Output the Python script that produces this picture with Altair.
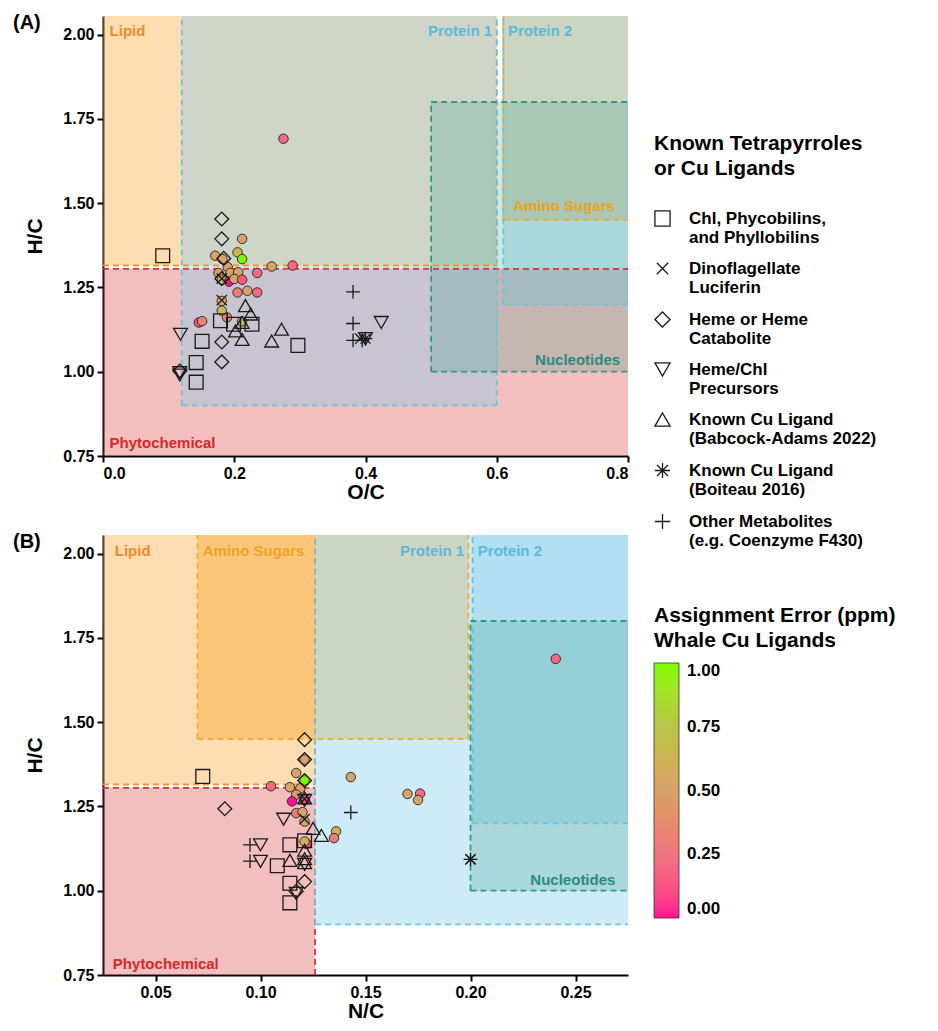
import altair as alt
import pandas as pd

FONT = "Liberation Sans"

# ---------------- categories / legend ----------------
CATS = [
    "Chl, Phycobilins,|and Phyllobilins",
    "Dinoflagellate|Luciferin",
    "Heme or Heme|Catabolite",
    "Heme/Chl|Precursors",
    "Known Cu Ligand|(Babcock-Adams 2022)",
    "Known Cu Ligand|(Boiteau 2016)",
    "Other Metabolites|(e.g. Coenzyme F430)",
]
SHAPES = [
    "square",
    "M-0.75,-0.75L0.75,0.75M-0.75,0.75L0.75,-0.75",
    "diamond",
    "triangle-down",
    "triangle-up",
    "M-1,0L1,0M0,-1L0,1M-0.72,-0.72L0.72,0.72M-0.72,0.72L0.72,-0.72",
    "M-1,0L1,0M0,-1L0,1",
]
SQ, XL, DI, TD, TU, AS, PL = CATS

ERR_STOPS = [0, 0.25, 0.5, 0.75, 1.0]
ERR_COLORS = ["#ff1493", "#ef7580", "#d8a268", "#b5c648", "#7cfc00"]

# ---------------- Panel A (O/C vs H/C) ----------------
A_circ_oc = [0.275, 0.212, 0.205, 0.212, 0.171, 0.182, 0.190, 0.257, 0.289, 0.235,
             0.176, 0.194, 0.206, 0.181, 0.192, 0.200, 0.212, 0.205, 0.220, 0.235,
             0.181, 0.181, 0.189, 0.146, 0.151, 0.212]
A_circ_hc = [1.691, 1.394, 1.354, 1.334, 1.344, 1.334, 1.310, 1.312, 1.315, 1.293,
             1.293, 1.293, 1.295, 1.273, 1.267, 1.275, 1.273, 1.235, 1.240, 1.235,
             1.210, 1.181, 1.161, 1.146, 1.150, 1.149]
A_circ_err = [0.20, 0.50, 0.65, 1.00, 0.50, 0.50, 0.50, 0.50, 0.20, 0.20,
              0.45, 0.50, 0.50, 0.65, 0.00, 0.50, 0.15, 0.30, 0.50, 0.20,
              0.50, 0.65, 0.30, 0.10, 0.35, 0.65]

A_shape_cat = [SQ, SQ, SQ, SQ, SQ, SQ, SQ, SQ,
               XL, XL, XL,
               DI, DI, DI, DI, DI, DI, DI,
               TD, TD, TD, TD, TD,
               TU, TU, TU, TU, TU, TU, TU,
               AS,
               PL, PL, PL, PL]
A_shape_oc = [0.091, 0.179, 0.199, 0.227, 0.297, 0.151, 0.142, 0.142,
              0.181, 0.181, 0.392,
              0.181, 0.181, 0.184, 0.181, 0.181, 0.181, 0.117,
              0.118, 0.117, 0.117, 0.424, 0.400,
              0.217, 0.225, 0.212, 0.202, 0.212, 0.272, 0.257,
              0.400,
              0.381, 0.381, 0.381, 0.395]
A_shape_hc = [1.344, 1.151, 1.141, 1.141, 1.078, 1.090, 1.027, 0.969,
              1.212, 1.276, 1.098,
              1.453, 1.394, 1.336, 1.276, 1.088, 1.029, 1.002,
              1.111, 0.997, 0.990, 1.146, 1.098,
              1.196, 1.171, 1.146, 1.121, 1.096, 1.126, 1.091,
              1.098,
              1.237, 1.143, 1.093, 1.093]

# ---------------- Panel B (N/C vs H/C) ----------------
B_circ_nc = [0.121, 0.117, 0.121, 0.105, 0.114, 0.119, 0.117, 0.115, 0.121, 0.117,
             0.120, 0.121, 0.143, 0.136, 0.135, 0.122, 0.121, 0.170, 0.176, 0.175,
             0.2406]
B_circ_hc = [1.389, 1.349, 1.327, 1.310, 1.307, 1.304, 1.285, 1.265, 1.268, 1.230,
             1.233, 1.205, 1.337, 1.176, 1.156, 1.139, 1.146, 1.287, 1.288, 1.269,
             1.6875]
B_circ_err = [0.50, 0.50, 1.00, 0.20, 0.50, 0.50, 0.50, 0.00, 0.10, 0.30,
              0.50, 0.50, 0.50, 0.62, 0.30, 0.10, 0.62, 0.50, 0.20, 0.50,
              0.20]

B_shape_cat = [SQ, SQ, SQ, SQ, SQ, SQ,
               XL, XL, XL,
               DI, DI, DI, DI, DI, DI,
               TD, TD, TD, TD, TD, TD,
               TU, TU, TU, TU, TU, TU, TU,
               AS,
               PL, PL, PL]
B_shape_nc = [0.0725, 0.114, 0.108, 0.114, 0.114, 0.121,
              0.121, 0.121, 0.200,
              0.121, 0.121, 0.121, 0.083, 0.121, 0.117,
              0.111, 0.100, 0.100, 0.117, 0.121, 0.121,
              0.125, 0.129, 0.114, 0.121, 0.121, 0.121, 0.121,
              0.200,
              0.143, 0.095, 0.095]
B_shape_hc = [1.339, 1.136, 1.074, 1.022, 0.964, 1.148,
              1.212, 1.272, 1.093,
              1.448, 1.389, 1.327, 1.243, 1.027, 0.998,
              1.212, 1.136, 1.087, 0.992, 1.268, 1.078,
              1.185, 1.164, 1.090, 1.120, 1.095, 1.275, 1.083,
              1.093,
              1.232, 1.136, 1.088]

# ---------------- compound-class regions (None = open side) ----------------
REG_NAMES = ["Lipid", "Phytochemical", "Amino Sugars", "Protein 1", "Protein 2", "Nucleotides"]
REG_FILL = ["#ffa940", "#d62728", "#f5a623", "#87ceeb", "#87ceeb", "#3a9e8a"]
REG_ALPHA = [0.40, 0.30, 0.40, 0.40, 0.40, 0.25]
REG_STROKE = ["#f39a2e", "#e0303a", "#f0b030", "#6bc3e0", "#6bc3e0", "#2e9c80"]

A_reg_x1 = [None, None, 0.61, 0.12, 0.61, 0.50]
A_reg_x2 = [0.60, None, None, 0.60, None, None]
A_reg_y1 = [1.315, None, 1.45, 0.90, 1.20, 1.00]
A_reg_y2 = [None, 1.305, None, None, None, 1.80]

B_reg_x1 = [None, None, 0.07, 0.126, 0.201, 0.200]
B_reg_x2 = [0.126, 0.126, 0.199, None, None, None]
B_reg_y1 = [1.315, None, 1.45, 0.90, 1.20, 1.00]
B_reg_y2 = [None, 1.305, None, None, None, 1.80]

LBL_COLOR = {"Lipid": "#f5891f", "Phytochemical": "#d42a2a", "Amino Sugars": "#eea51e",
             "Protein 1": "#5bb9da", "Protein 2": "#5bb9da", "Nucleotides": "#2a8c78"}
A_lbl_text = ["Lipid", "Protein 1", "Protein 2", "Amino Sugars", "Nucleotides", "Phytochemical"]
A_lbl_x = [0.010, 0.593, 0.617, 0.625, 0.788, 0.010]
A_lbl_y = [2.010, 2.010, 2.010, 1.490, 1.036, 0.790]
A_lbl_align = ["left", "right", "left", "left", "right", "left"]

B_lbl_text = ["Lipid", "Amino Sugars", "Protein 1", "Protein 2", "Nucleotides", "Phytochemical"]
B_lbl_x = [0.0306, 0.0725, 0.197, 0.2035, 0.269, 0.0297]
B_lbl_y = [2.008, 2.008, 2.008, 2.008, 1.033, 0.783]
B_lbl_align = ["left", "left", "right", "left", "right", "left"]

Y_DOMAIN = [0.75, 2.055]
Y_TICKS = [0.75, 1.0, 1.25, 1.5, 1.75, 2.0]

W, H = 525, 440


def panel(xtitle, xdomain, xticks, xfmt, reg, circ, shp, lbl, tag):
    xs = alt.Scale(domain=xdomain, nice=False, zero=False)
    ys = alt.Scale(domain=Y_DOMAIN, nice=False, zero=False)
    xax = alt.Axis(values=xticks, format=xfmt, title=xtitle)
    yax = alt.Axis(values=Y_TICKS, format=".2f", title="H/C")

    def X(f):
        return alt.X(f, scale=xs, axis=xax, title=xtitle)

    def Y(f):
        return alt.Y(f, scale=ys, axis=yax, title="H/C")

    x1s, x2s, y1s, y2s = reg
    layers = []
    # fills (open sides run to the plot edge)
    for i, nm in enumerate(REG_NAMES):
        a = xdomain[0] if x1s[i] is None else x1s[i]
        b = xdomain[1] if x2s[i] is None else x2s[i]
        c = Y_DOMAIN[0] if y1s[i] is None else y1s[i]
        e = Y_DOMAIN[1] if y2s[i] is None else y2s[i]
        d = pd.DataFrame({"x1": [a], "x2": [b], "y1": [c], "y2": [e]})
        layers.append(
            alt.Chart(d).mark_rect(fill=REG_FILL[i], fillOpacity=REG_ALPHA[i],
                                   strokeWidth=0).encode(
                x=X("x1:Q"), x2="x2:Q", y=Y("y1:Q"), y2="y2:Q"))
    # dashed outlines on the closed sides only
    for i, nm in enumerate(REG_NAMES):
        a = xdomain[0] if x1s[i] is None else x1s[i]
        b = xdomain[1] if x2s[i] is None else x2s[i]
        c = Y_DOMAIN[0] if y1s[i] is None else y1s[i]
        e = Y_DOMAIN[1] if y2s[i] is None else y2s[i]
        segs = []
        if y1s[i] is not None:
            segs.append((a, b, c, c))
        if y2s[i] is not None:
            segs.append((a, b, e, e))
        if x1s[i] is not None:
            segs.append((a, a, c, e))
        if x2s[i] is not None:
            segs.append((b, b, c, e))
        d = pd.DataFrame(segs, columns=["x1", "x2", "y1", "y2"])
        layers.append(
            alt.Chart(d).mark_rule(stroke=REG_STROKE[i], strokeWidth=1.8,
                                   strokeDash=[6, 4]).encode(
                x=X("x1:Q"), x2="x2:Q", y=Y("y1:Q"), y2="y2:Q"))
    # region labels
    lt, lx, ly, la = lbl
    for i in range(len(lt)):
        d = pd.DataFrame({"t": [lt[i]], "x1": [lx[i]], "y1": [ly[i]]})
        layers.append(
            alt.Chart(d).mark_text(align=la[i], baseline="middle", font=FONT,
                                   fontSize=15, fontWeight="bold",
                                   color=LBL_COLOR[lt[i]]).encode(
                x=X("x1:Q"), y=Y("y1:Q"), text="t:N"))
    # circles (whale Cu ligands)
    cx, cy, ce = circ
    dc = pd.DataFrame({"x1": cx, "y1": cy, "err": ce})
    layers.append(
        alt.Chart(dc).mark_circle(size=90, opacity=1, stroke="#222", strokeWidth=0.9).encode(
            x=X("x1:Q"), y=Y("y1:Q"),
            color=alt.Color("err:Q",
                            scale=alt.Scale(domain=ERR_STOPS, range=ERR_COLORS),
                            legend=alt.Legend(
                                title=["Assignment Error (ppm)", "Whale Cu Ligands"],
                                orient="none", legendX=551, legendY=589,
                                gradientLength=255, gradientThickness=25,
                                values=[0, 0.25, 0.5, 0.75, 1.0], format=".2f",
                                gradientStrokeColor="#333", gradientStrokeWidth=0.8,
                                labelOffset=8, titlePadding=12)),
        )
    )
    # known compound symbols
    sx, sy, sc = shp
    ds = pd.DataFrame({"x1": sx, "y1": sy, "cat": sc})
    layers.append(
        alt.Chart(ds).mark_point(size=190, filled=False, stroke="#1a1a1a", strokeWidth=1.3,
                                 opacity=1).encode(
            x=X("x1:Q"), y=Y("y1:Q"),
            shape=alt.Shape("cat:N", scale=alt.Scale(domain=CATS, range=SHAPES),
                            legend=alt.Legend(
                                title=["Known Tetrapyrroles", "or Cu Ligands"],
                                orient="none", legendX=551, legendY=117,
                                labelExpr="split(datum.label, '|')",
                                symbolSize=230, symbolStrokeWidth=1.3,
                                symbolStrokeColor="#1a1a1a",
                                rowPadding=13, labelOffset=18, titlePadding=31,
                                labelLimit=400)),
        )
    )
    # panel tag
    dt = pd.DataFrame({"t": [tag]})
    layers.append(
        alt.Chart(dt).mark_text(align="left", baseline="middle", font=FONT, fontSize=20,
                                fontWeight="bold", color="black").encode(
            x=alt.value(-90), y=alt.value(7), text="t:N")
    )
    return alt.layer(*layers).properties(width=W, height=H)


pA = panel("O/C", [0.0, 0.8], [0.0, 0.2, 0.4, 0.6, 0.8], ".1f",
           (A_reg_x1, A_reg_x2, A_reg_y1, A_reg_y2),
           (A_circ_oc, A_circ_hc, A_circ_err),
           (A_shape_oc, A_shape_hc, A_shape_cat),
           (A_lbl_text, A_lbl_x, A_lbl_y, A_lbl_align), "(A)")
pB = panel("N/C", [0.025, 0.275], [0.05, 0.10, 0.15, 0.20, 0.25], ".2f",
           (B_reg_x1, B_reg_x2, B_reg_y1, B_reg_y2),
           (B_circ_nc, B_circ_hc, B_circ_err),
           (B_shape_nc, B_shape_hc, B_shape_cat),
           (B_lbl_text, B_lbl_x, B_lbl_y, B_lbl_align), "(B)")

chart = alt.vconcat(pA, pB, spacing=30).configure(background="white").configure_view(
    stroke=None).configure_axis(
    grid=False, domainColor="black", domainWidth=2, tickColor="black", tickWidth=2,
    tickSize=6, labelFont=FONT, labelFontSize=16, labelFontWeight="bold",
    labelColor="black", titleFont=FONT, titleFontSize=21, titleFontWeight="bold",
    titleColor="black", labelPadding=3,
).configure_axisY(titlePadding=17).configure_axisX(titlePadding=0).configure_legend(
    titleFont=FONT, titleFontSize=21, titleFontWeight="bold", titleColor="black",
    titleLineHeight=25, titleLimit=400,
    labelFont=FONT, labelFontSize=17, labelFontWeight="bold", labelColor="black",
)

chart.save("out.html", embed_options={"renderer": "svg", "actions": False})
